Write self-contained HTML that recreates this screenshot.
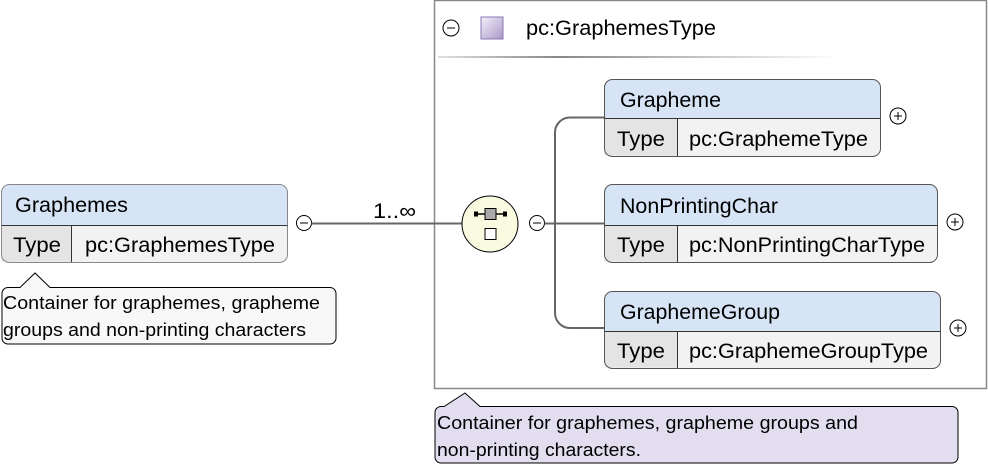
<!DOCTYPE html>
<html><head><meta charset="utf-8"><style>
html,body{margin:0;padding:0;background:#fff;}
svg{display:block;}
text{font-family:"Liberation Sans",Arial,sans-serif;fill:#000;}
</style></head><body>
<svg width="988" height="468" viewBox="0 0 988 468" xmlns="http://www.w3.org/2000/svg">
<defs>
<linearGradient id="sep" x1="0" x2="1" y1="0" y2="0">
<stop offset="0" stop-color="#e0e0e0"/><stop offset="0.3" stop-color="#888"/><stop offset="1" stop-color="#fff"/>
</linearGradient>
<linearGradient id="sq" x1="0" x2="1" y1="0" y2="1">
<stop offset="0" stop-color="#f4f0fa"/><stop offset="1" stop-color="#a898c8"/>
</linearGradient>
</defs>

<rect x="434.5" y="0.5" width="552" height="388" fill="#fff" stroke="#888" stroke-width="1.5"/>
<circle cx="451" cy="28" r="8" fill="#fff" stroke="#000"/>
<line x1="447" y1="28" x2="455" y2="28" stroke="#000"/>
<rect x="481" y="17" width="22" height="22" fill="url(#sq)" stroke="#8878b0"/>
<text x="526" y="35" font-size="21" textLength="190" lengthAdjust="spacingAndGlyphs">pc:GraphemesType</text>
<rect x="438" y="56" width="400" height="2" fill="url(#sep)"/>

<path d="M9,184.5 H279 a8,8 0 0 1 8,8 V225.5 H1.5 V192.5 a8,8 0 0 1 8,-8z" fill="#d6e4f6"/>
<path d="M1.5,225.5 H287 V254 a8,8 0 0 1 -8,8 H9.5 a8,8 0 0 1 -8,-8z" fill="#f2f2f2"/>
<rect x="1.5" y="225.5" width="70" height="36" fill="#e4e4e4"/>
<rect x="1.5" y="184.5" width="286" height="78" rx="8" fill="none" stroke="#888"/>
<line x1="1.5" y1="225.5" x2="287.5" y2="225.5" stroke="#333"/>
<line x1="71.5" y1="225.5" x2="71.5" y2="262" stroke="#333"/>
<text x="15" y="212" font-size="21" textLength="113" lengthAdjust="spacingAndGlyphs">Graphemes</text>
<text x="13" y="252" font-size="21" textLength="48" lengthAdjust="spacingAndGlyphs">Type</text>
<text x="85" y="252" font-size="21" textLength="190" lengthAdjust="spacingAndGlyphs">pc:GraphemesType</text>

<path d="M8,287.5 H20 L35,273 L50,287.5 H330 a6,6 0 0 1 6,6 V338 a6,6 0 0 1 -6,6 H8 a6,6 0 0 1 -6,-6 V293.5 a6,6 0 0 1 6,-6z" fill="#f8f8f8" stroke="#000"/>
<text x="3" y="309" font-size="18" textLength="317" lengthAdjust="spacingAndGlyphs">Container for graphemes, grapheme</text>
<text x="3" y="336" font-size="18" textLength="303" lengthAdjust="spacingAndGlyphs">groups and non-printing characters</text>

<circle cx="304" cy="223" r="7.5" fill="#fff" stroke="#000"/>
<line x1="300" y1="223" x2="308" y2="223" stroke="#000"/>
<line x1="311.5" y1="223.5" x2="462" y2="223.5" stroke="#666" stroke-width="2"/>
<text x="373" y="218" font-size="21" textLength="43" lengthAdjust="spacingAndGlyphs">1..∞</text>

<circle cx="490" cy="224" r="28" fill="#fafae0" stroke="#000"/>
<line x1="476" y1="214" x2="505" y2="214" stroke="#000" stroke-width="1.5"/>
<rect x="474" y="211.5" width="4" height="5" fill="#000"/>
<rect x="503" y="211.5" width="4" height="5" fill="#000"/>
<rect x="485" y="208.5" width="11" height="11" fill="#aaa" stroke="#000"/>
<rect x="485" y="228.5" width="11" height="11" fill="#fff" stroke="#000"/>
<circle cx="537" cy="223" r="7.5" fill="#fff" stroke="#000"/>
<line x1="533" y1="223" x2="541" y2="223" stroke="#000"/>
<line x1="544.5" y1="223.5" x2="605" y2="223.5" stroke="#666" stroke-width="2"/>
<path d="M605,117.5 H570 a15,15 0 0 0 -15,15 V313 a15,15 0 0 0 15,15 H605" fill="none" stroke="#666" stroke-width="2"/>

<g>
<path d="M612,79.5 H872 a8,8 0 0 1 8,8 V118.5 H604.5 V87.5 a8,8 0 0 1 8,-8z" fill="#d6e4f6"/>
<path d="M604.5,118.5 H880 V148 a8,8 0 0 1 -8,8 H612.5 a8,8 0 0 1 -8,-8z" fill="#f2f2f2"/>
<rect x="604.5" y="118.5" width="73" height="37" fill="#e4e4e4"/>
<rect x="604.5" y="79.5" width="276" height="77" rx="8" fill="none" stroke="#555"/>
<line x1="604.5" y1="118.5" x2="880.5" y2="118.5" stroke="#333"/>
<line x1="677.5" y1="118.5" x2="677.5" y2="156" stroke="#333"/>
<text x="620" y="107" font-size="21" textLength="101" lengthAdjust="spacingAndGlyphs">Grapheme</text>
<text x="617" y="146" font-size="21" textLength="48" lengthAdjust="spacingAndGlyphs">Type</text>
<text x="689" y="146" font-size="21" textLength="179" lengthAdjust="spacingAndGlyphs">pc:GraphemeType</text>
<circle cx="898" cy="116" r="8" fill="#fff" stroke="#000"/>
<line x1="894" y1="116" x2="902" y2="116" stroke="#000"/><line x1="898" y1="112" x2="898" y2="120" stroke="#000"/>
</g>

<g>
<path d="M612,184.5 H929 a8,8 0 0 1 8,8 V225.5 H604.5 V192.5 a8,8 0 0 1 8,-8z" fill="#d6e4f6"/>
<path d="M604.5,225.5 H937 V254 a8,8 0 0 1 -8,8 H612.5 a8,8 0 0 1 -8,-8z" fill="#f2f2f2"/>
<rect x="604.5" y="225.5" width="73" height="36" fill="#e4e4e4"/>
<rect x="604.5" y="184.5" width="333" height="78" rx="8" fill="none" stroke="#555"/>
<line x1="604.5" y1="225.5" x2="937.5" y2="225.5" stroke="#333"/>
<line x1="677.5" y1="225.5" x2="677.5" y2="262" stroke="#333"/>
<text x="620" y="213" font-size="21" textLength="158" lengthAdjust="spacingAndGlyphs">NonPrintingChar</text>
<text x="617" y="252" font-size="21" textLength="48" lengthAdjust="spacingAndGlyphs">Type</text>
<text x="689" y="252" font-size="21" textLength="236" lengthAdjust="spacingAndGlyphs">pc:NonPrintingCharType</text>
<circle cx="955" cy="222" r="8" fill="#fff" stroke="#000"/>
<line x1="951" y1="222" x2="959" y2="222" stroke="#000"/><line x1="955" y1="218" x2="955" y2="226" stroke="#000"/>
</g>

<g>
<path d="M612,291.5 H932 a8,8 0 0 1 8,8 V331.5 H604.5 V299.5 a8,8 0 0 1 8,-8z" fill="#d6e4f6"/>
<path d="M604.5,331.5 H940 V360 a8,8 0 0 1 -8,8 H612.5 a8,8 0 0 1 -8,-8z" fill="#f2f2f2"/>
<rect x="604.5" y="331.5" width="73" height="36" fill="#e4e4e4"/>
<rect x="604.5" y="291.5" width="336" height="77" rx="8" fill="none" stroke="#555"/>
<line x1="604.5" y1="331.5" x2="940.5" y2="331.5" stroke="#333"/>
<line x1="677.5" y1="331.5" x2="677.5" y2="368" stroke="#333"/>
<text x="620" y="319" font-size="21" textLength="160" lengthAdjust="spacingAndGlyphs">GraphemeGroup</text>
<text x="617" y="358" font-size="21" textLength="48" lengthAdjust="spacingAndGlyphs">Type</text>
<text x="689" y="358" font-size="21" textLength="239" lengthAdjust="spacingAndGlyphs">pc:GraphemeGroupType</text>
<circle cx="958" cy="328" r="8" fill="#fff" stroke="#000"/>
<line x1="954" y1="328" x2="962" y2="328" stroke="#000"/><line x1="958" y1="324" x2="958" y2="332" stroke="#000"/>
</g>

<path d="M441,406.5 H444 L465,393 L480,406.5 H952 a6,6 0 0 1 6,6 V457 a6,6 0 0 1 -6,6 H441 a6,6 0 0 1 -6,-6 V412.5 a6,6 0 0 1 6,-6z" fill="#e2ddef" stroke="#000"/>
<text x="437" y="429" font-size="18" textLength="421" lengthAdjust="spacingAndGlyphs">Container for graphemes, grapheme groups and</text>
<text x="437" y="456" font-size="18" textLength="204" lengthAdjust="spacingAndGlyphs">non-printing characters.</text>
</svg>
</body></html>
